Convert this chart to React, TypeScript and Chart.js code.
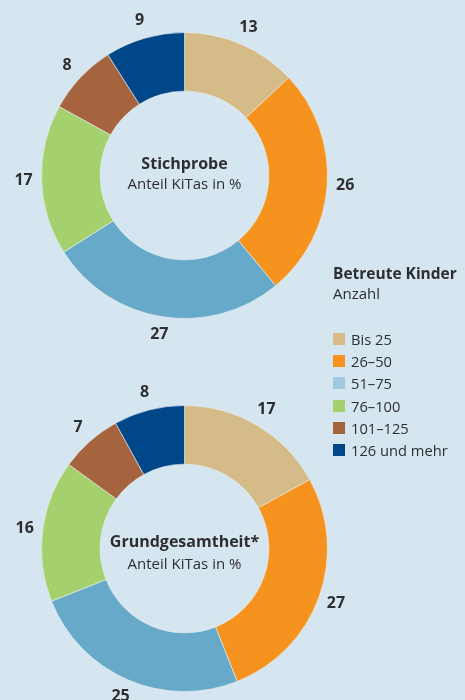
import React, { useEffect, useRef } from "react";
import { Chart, registerables } from "chart.js";

Chart.register(...registerables);

const categories = ["Bis 25", "26–50", "51–75", "76–100", "101–125", "126 und mehr"];
const stichprobe = [13, 26, 27, 17, 8, 9];
const grundgesamtheit = [17, 27, 25, 16, 7, 8];
const sliceColors = ["#d4bb87", "#f6921e", "#67a9c8", "#a5d06e", "#a5643d", "#00478a"];
const legendColors = ["#d4bb87", "#f6921e", "#9fc9de", "#a5d06e", "#a5643d", "#00478a"];
const legendTitle = "Betreute Kinder";
const legendSubtitle = "Anzahl";
const centerSub = "Anteil KiTas in %";

const FONT = "'Open Sans', 'Noto Sans', sans-serif";
const TEXT = "#2e2e30";
const BG = "#d5e6f0";

type DonutProps = {
  values: number[];
  title: string;
  left: number;
  top: number;
  width: number;
  height: number;
  padding: { top: number; bottom: number; left: number; right: number };
  titleDy: number;
  subDy: number;
};

function Donut(props: DonutProps) {
  const ref = useRef<HTMLCanvasElement | null>(null);
  useEffect(() => {
    if (!ref.current) return;
    const labelPlugin = {
      id: "labels" + props.title,
      afterDatasetsDraw(chart: any) {
        const ctx = chart.ctx;
        const meta = chart.getDatasetMeta(0);
        ctx.save();
        ctx.fillStyle = TEXT;
        ctx.font = `bold 16px ${FONT}`;
        ctx.textAlign = "center";
        ctx.textBaseline = "middle";
        meta.data.forEach((arc: any, i: number) => {
          const p = arc.getProps(["x", "y", "startAngle", "endAngle", "outerRadius"], true);
          const mid = (p.startAngle + p.endAngle) / 2;
          const r = p.outerRadius + 18;
          ctx.fillText(String(props.values[i]), p.x + r * Math.cos(mid), p.y + r * Math.sin(mid));
        });
        const a0 = meta.data[0].getProps(["x", "y"], true);
        ctx.font = `bold 16px ${FONT}`;
        ctx.fillText(props.title, a0.x, a0.y + props.titleDy);
        ctx.font = `15px ${FONT}`;
        ctx.fillText(centerSub, a0.x, a0.y + props.subDy);
        ctx.restore();
      },
    };
    const chart = new Chart(ref.current, {
      type: "doughnut",
      data: {
        labels: categories,
        datasets: [
          {
            data: props.values,
            backgroundColor: sliceColors,
            borderColor: "rgba(235,240,240,0.6)",
            borderWidth: 1,
          },
        ],
      },
      options: {
        responsive: false,
        animation: false,
        cutout: "59%",
        layout: { padding: props.padding },
        plugins: { legend: { display: false }, tooltip: { enabled: false } },
      },
      plugins: [labelPlugin],
    });
    return () => chart.destroy();
  }, []);
  return (
    <canvas
      ref={ref}
      width={props.width}
      height={props.height}
      style={{ position: "absolute", left: props.left, top: props.top, width: props.width, height: props.height }}
    />
  );
}

export default function App() {
  return (
    <div
      style={{
        position: "fixed",
        left: 0,
        top: 0,
        width: 465,
        height: 700,
        background: BG,
        overflow: "hidden",
        fontFamily: FONT,
        color: TEXT,
      }}
    >
      <Donut
        values={stichprobe}
        title="Stichprobe"
        left={0}
        top={0}
        width={370}
        height={360}
        padding={{ top: 32, bottom: 41, left: 41, right: 42 }}
        titleDy={-11.5}
        subDy={9.5}
      />
      <Donut
        values={grundgesamtheit}
        title="Grundgesamtheit*"
        left={0}
        top={370}
        width={370}
        height={330}
        padding={{ top: 35, bottom: 8, left: 41, right: 42 }}
        titleDy={-6}
        subDy={16.5}
      />
      <div style={{ position: "absolute", left: 333, top: 263, zIndex: 2 }}>
        <div style={{ fontWeight: "bold", fontSize: 15.5, lineHeight: "20px", whiteSpace: "nowrap" }}>{legendTitle}</div>
        <div style={{ fontSize: 15, lineHeight: "21px", marginBottom: 24 }}>{legendSubtitle}</div>
        {categories.map((c, i) => (
          <div key={c} style={{ display: "flex", alignItems: "center", height: 22.2, whiteSpace: "nowrap" }}>
            <div style={{ width: 12, height: 12, background: legendColors[i], marginRight: 6, flex: "none" }} />
            <div style={{ fontSize: 14.7, lineHeight: "22px" }}>{c}</div>
          </div>
        ))}
      </div>
    </div>
  );
}
